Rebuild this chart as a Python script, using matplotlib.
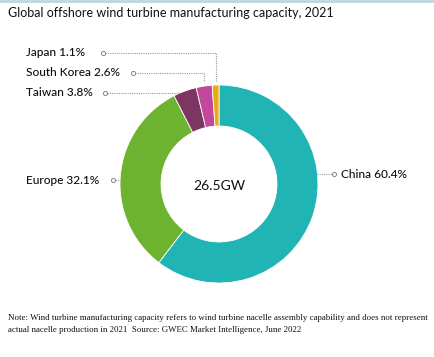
import matplotlib.pyplot as plt
import numpy as np

# data, clockwise from 12 o'clock
regions = ['China', 'Europe', 'Taiwan', 'South Korea', 'Japan']
shares = [60.4, 32.1, 3.8, 2.6, 1.1]
colors = ['#21b4b4', '#6db32f', '#7c3661', '#c1489a', '#e9aa12']
total_label = '26.5GW'

W, H = 434, 357
fig = plt.figure(figsize=(W / 100, H / 100), dpi=100)
ax = fig.add_axes([0, 0, 1, 1])

cx, cy, R = 219, H - 184, 99
wedges, _ = ax.pie(shares, colors=colors, startangle=90, counterclock=False,
                   center=(cx, cy), radius=R,
                   wedgeprops=dict(width=41, edgecolor='white', linewidth=0.6))
ax.set_xlim(0, W)
ax.set_ylim(0, H)
ax.set_aspect('equal')
ax.axis('off')

ax.text(cx, cy - 2, total_label, ha='center', va='center', fontsize=10,
        family='Lato', color='#111111')

def mid_angle(w):
    return np.deg2rad((w.theta1 + w.theta2) / 2)

line_kw = dict(color='#999999', lw=0.8, ls=(0, (1, 1)))
dot_kw = dict(marker='o', ms=3, mfc='white', mec='#888888', mew=0.7)
font_kw = dict(fontsize=8.6, family='Lato', fontweight='medium', color='#111111', va='center')

# labels stacked top-left: Japan, South Korea, Taiwan
left_rows = {'Japan': 53, 'South Korea': 73, 'Taiwan': 93}
dot_x = {'Japan': 103, 'South Korea': 133, 'Taiwan': 105}
for name, ypx in left_rows.items():
    i = regions.index(name)
    w = wedges[i]
    y = H - ypx
    lab = f'{name} {shares[i]}%'
    ax.text(26, y, lab, ha='left', **font_kw)
    x0 = dot_x[name]
    a = mid_angle(w)
    ax_x = cx + R * np.cos(a)
    ax_y = cy + R * np.sin(a)
    if ax_y > y:
        # horizontal line until it meets the ring edge
        xe = cx - np.sqrt(R ** 2 - (y - cy) ** 2)
        ax.plot([x0, xe], [y, y], **line_kw)
    else:
        ax.plot([x0, ax_x, ax_x], [y, y, ax_y + 4], **line_kw)
    ax.plot([x0], [y], **dot_kw)

# Europe (left side)
i = regions.index('Europe')
y = H - 180
ax.text(26, y, f'Europe {shares[i]}%', ha='left', **font_kw)
xe = cx - np.sqrt(R ** 2 - (y - cy) ** 2)
ax.plot([113, xe], [y, y], **line_kw)
ax.plot([113], [y], **dot_kw)

# China (right side)
i = regions.index('China')
y = H - 174
ax.text(341, y, f'China {shares[i]}%', ha='left', **font_kw)
xe = cx + np.sqrt(R ** 2 - (y - cy) ** 2)
ax.plot([xe, 334], [y, y], **line_kw)
ax.plot([334], [y], **dot_kw)

# title and top rule
fig.add_artist(plt.Line2D([0, 1], [1 - 1 / H, 1 - 1 / H], color='#bcd6de', lw=2))
fig.text(8 / W, 1 - 13 / H, 'Global offshore wind turbine manufacturing capacity, 2021',
         ha='left', va='center', fontsize=9, family='Lato', color='#111111')

note = ('Note: Wind turbine manufacturing capacity refers to wind turbine nacelle assembly capability and does not represent\n'
        'actual nacelle production in 2021  Source: GWEC Market Intelligence, June 2022')
fig.text(8 / W, 1 - 314 / H, note, ha='left', va='top', fontsize=6.4,
         family='Liberation Serif', color='#111111', linespacing=1.6)

fig.savefig('out.png', dpi=100)
